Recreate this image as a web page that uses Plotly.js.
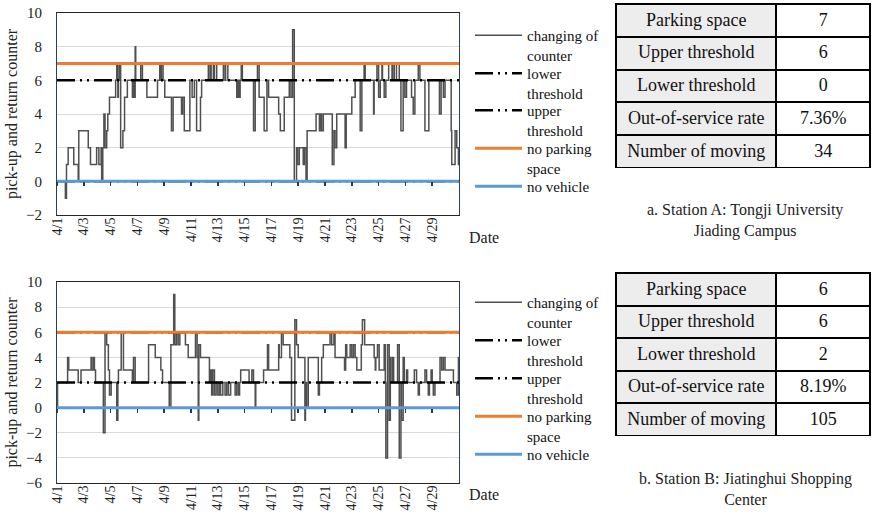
<!DOCTYPE html>
<html><head><meta charset="utf-8">
<script src="https://cdn.plot.ly/plotly-3.0.1.min.js"></script>
<style>html,body{margin:0;padding:0;background:#fff}#chart{width:873px;height:520px}</style>
</head><body><div id="chart"></div>
<script>
// ---- data (hour offsets from 4/1 00:00, value from that hour on) ----
const hoursA = [0,15,17,20,30,38,39,56,60,71,75,79,80,82,84,86,89,91,94,105,107,109,110,112,114,118,121,126,135,137,138,140,141,150,153,161,180,184,186,187,190,193,205,208,223,225,228,238,242,246,250,257,259,271,274,276,280,282,286,298,301,302,306,322,324,326,328,330,332,352,355,359,362,371,376,379,397,400,407,416,419,422,425,429,431,434,441,443,446,448,464,470,472,474,477,493,496,498,501,516,518,528,534,543,546,550,552,567,568,573,576,579,582,583,586,589,594,600,601,604,608,613,616,620,623,626,635,638,641,647,650,659,666,685,688,692,695,706,707,713,716,719,720];
const counterA = [0,-1,1,2,1,0,3,2,1,2,1,2,0,2,4,2,3,4,5,6,7,5,6,7,2,3,5,6,5,6,5,8,6,7,6,5,6,7,6,7,6,5,3,5,4,5,3,6,5,6,3,5,6,7,6,7,6,7,6,7,6,7,6,5,6,5,6,7,6,3,6,7,5,3,6,5,4,3,5,6,5,9,0,2,1,2,1,2,0,3,4,3,4,3,4,1,3,2,4,2,4,5,6,3,6,7,6,4,6,7,5,6,7,6,5,6,7,6,7,6,7,6,3,6,5,6,5,4,6,7,6,3,6,4,6,5,6,3,1,3,2,1,1];
const hoursB = [0,1,19,21,38,43,61,62,65,67,69,83,86,89,92,94,97,107,109,110,115,119,135,137,140,164,176,186,189,201,204,209,211,214,217,220,230,235,248,251,253,254,257,273,275,277,279,282,285,288,291,293,297,301,304,307,311,319,322,325,327,329,344,349,352,355,356,370,377,379,397,398,402,405,417,420,426,429,432,444,445,447,450,468,470,474,477,489,492,496,498,515,517,519,525,528,531,534,537,545,547,551,568,570,571,574,577,586,588,589,592,595,597,598,601,603,610,613,616,617,620,622,626,628,640,644,647,649,659,662,665,667,670,672,674,677,686,689,692,695,710,716,719,720];
const counterB = [0,2,4,3,2,3,4,3,4,3,2,-2,6,5,3,1,2,-1,2,3,6,3,2,4,2,5,4,3,2,0,5,9,5,6,5,6,5,4,6,4,-1,5,4,2,3,1,3,1,2,1,2,1,2,1,2,1,2,1,2,1,2,3,2,3,2,0,2,3,5,3,5,4,6,5,4,-1,7,5,4,-1,2,0,4,1,2,4,5,6,5,6,4,3,5,4,5,4,5,4,3,5,7,5,4,3,4,5,3,5,2,-4,5,-1,4,2,4,2,5,-4,2,-1,4,2,3,2,3,2,1,2,3,2,1,2,3,2,1,2,4,3,4,3,2,1,4,4];
const timeSpan = [0, 720];
const tickHours = [0,48,96,144,192,240,288,336,384,432,480,528,576,624,672];
const tickLabels = ['4/1','4/3','4/5','4/7','4/9','4/11','4/13','4/15','4/17','4/19','4/21','4/23','4/25','4/27','4/29'];
const parkingA = 7, upperA = 6, lowerA = 0;
const parkingB = 6, upperB = 6, lowerB = 2;
const noVehicle = 0;
const tableLabels = ['Parking space','Upper threshold','Lower threshold','Out-of-service rate','Number of moving'];
const tableA = ['7','6','0','7.36%','34'];
const tableB = ['6','6','2','8.19%','105'];
const captionA = 'a. Station A: Tongji University<br>Jiading Campus';
const captionB = 'b. Station B: Jiatinghui Shopping<br>Center';
const legendNames = ['changing of<br>counter','lower<br>threshold','upper<br>threshold','no parking<br>space','no vehicle'];
const yTitle = 'pick-up and return counter';
const rangeA = [-2, 10], rangeB = [-6, 10];

// ---- styling ----
const FONT = 'Liberation Serif';
const GRAY = '#505050', ORANGE = '#ed7d31', BLUE = '#5b9bd5';
const DASH = '18px,5px,2px,5px,2px,5px';
const W = 873, H = 520;
const xDom = [57/W, 459/W];
const yDomA = [1-215/H, 1-13/H];
const yDomB = [1-483/H, 1-282/H];
const zeroPos = (dom, r) => dom[0] + (0 - r[0]) / (r[1] - r[0]) * (dom[1] - dom[0]);
const legendTopsA = [19, 57, 94, 132, 170];
const legendTopsB = [286, 324, 362, 400, 438];

function lgId(i) { return i === 0 ? 'legend' : 'legend' + (i + 1); }

function stationTraces(hours, counter, lower, upper, parking, xa, ya, lg0) {
  const flat = v => [v, v];
  return [
    {x: hours, y: counter, type:'scatter', mode:'lines', line:{color:GRAY, width:1.5, shape:'hv'}, name:legendNames[0], xaxis:xa, yaxis:ya, legend:lgId(lg0)},
    {x: timeSpan, y: flat(lower), type:'scatter', mode:'lines', line:{color:'#000', width:2.5, dash:DASH}, name:legendNames[1], xaxis:xa, yaxis:ya, legend:lgId(lg0+1)},
    {x: timeSpan, y: flat(upper), type:'scatter', mode:'lines', line:{color:'#000', width:2.5, dash:DASH}, name:legendNames[2], xaxis:xa, yaxis:ya, legend:lgId(lg0+2)},
    {x: timeSpan, y: flat(parking), type:'scatter', mode:'lines', line:{color:ORANGE, width:3}, name:legendNames[3], xaxis:xa, yaxis:ya, legend:lgId(lg0+3)},
    {x: timeSpan, y: flat(noVehicle), type:'scatter', mode:'lines', line:{color:BLUE, width:3}, name:legendNames[4], xaxis:xa, yaxis:ya, legend:lgId(lg0+4)}
  ];
}

function table(vals, dom) {
  const h = (dom[1]-dom[0]) * H / 5;
  return {
    type:'table', domain:{x:[616/W, 871/W], y:dom}, columnwidth:[161, 94],
    header:{values:[tableLabels[0], vals[0]], height:h, align:'center',
      fill:{color:[['#ededed'],['#ffffff']]}, line:{color:'#000', width:2},
      font:{family:FONT, size:18, color:'#111'}},
    cells:{values:[tableLabels.slice(1), vals.slice(1)], height:h, align:'center',
      fill:{color:[tableLabels.slice(1).map(()=>'#ededed'), tableLabels.slice(1).map(()=>'#ffffff')]},
      line:{color:'#000', width:2}, font:{family:FONT, size:18, color:'#111'}}
  };
}

const data = [
  ...stationTraces(hoursA, counterA, lowerA, upperA, parkingA, 'x', 'y', 0),
  ...stationTraces(hoursB, counterB, lowerB, upperB, parkingB, 'x2', 'y2', 5),
  {x:[], y:[], type:'scatter', mode:'lines', xaxis:'x3', yaxis:'y', showlegend:false, hoverinfo:'skip'},
  {x:[], y:[], type:'scatter', mode:'lines', xaxis:'x4', yaxis:'y2', showlegend:false, hoverinfo:'skip'},
  table(tableA, [1-168/H, 1-4/H]),
  table(tableB, [1-436/H, 1-273/H])
];

const xBase = {
  domain:xDom, range:timeSpan, tickmode:'array', tickvals:tickHours, ticktext:tickLabels,
  tickangle:-90, tickfont:{family:FONT, size:14, color:'#222'}, ticks:'', ticklabelstandoff:-4,
  showgrid:false, zeroline:false, showline:true, mirror:true, linecolor:'#262626', linewidth:1,
  automargin:false, fixedrange:true
};
const yBase = {
  domain:yDomA, dtick:2, tick0:0, tickfont:{family:FONT, size:15, color:'#222'}, ticks:'',
  ticklabelstandoff:11, showgrid:true, gridcolor:'#d9d9d9', gridwidth:1, zeroline:false,
  showline:true, mirror:true, linecolor:'#2a3f5a', linewidth:1, automargin:false, fixedrange:true,
  title:{text:yTitle, font:{family:FONT, size:16, color:'#222'}, standoff:4}
};
const markAxis = (ov, pos) => ({
  overlaying:ov, anchor:'free', position:pos, range:timeSpan, tickmode:'array', tickvals:tickHours,
  showticklabels:false, ticks:'outside', ticklen:4, tickwidth:1.5, tickcolor:'#1f3a5f',
  showline:false, showgrid:false, zeroline:false, fixedrange:true
});
const legendBox = top => ({
  x:470/W, y:1-top/H, xanchor:'left', yanchor:'top', bgcolor:'rgba(0,0,0,0)', valign:'top',
  itemwidth:47, font:{family:FONT, size:15, color:'#111'}
});

const layout = {
  width:W, height:H, autosize:false, margin:{l:0, r:0, t:0, b:0},
  paper_bgcolor:'#fff', plot_bgcolor:'#fff', font:{family:FONT, color:'#111'},
  xaxis:{...xBase, anchor:'y'},
  yaxis:{...yBase, domain:yDomA, range:rangeA, anchor:'x'},
  xaxis2:{...xBase, anchor:'y2'},
  yaxis2:{...yBase, domain:yDomB, range:rangeB, anchor:'x2'},
  xaxis3:markAxis('x', zeroPos(yDomA, rangeA)),
  xaxis4:markAxis('x2', zeroPos(yDomB, rangeB)),
  annotations:[
    {text:captionA, x:745/W, y:1-220/H, xref:'paper', yref:'paper', xanchor:'center', yanchor:'middle', showarrow:false, font:{family:FONT, size:16, color:'#222'}, align:'center'},
    {text:captionB, x:745/W, y:1-489/H, xref:'paper', yref:'paper', xanchor:'center', yanchor:'middle', showarrow:false, font:{family:FONT, size:16, color:'#222'}, align:'center'},
    {text:'Date', x:467/W, y:1-238/H, xref:'paper', yref:'paper', xanchor:'left', showarrow:false, font:{family:FONT, size:16, color:'#222'}},
    {text:'Date', x:467/W, y:1-505/H, xref:'paper', yref:'paper', xanchor:'left', showarrow:false, font:{family:FONT, size:16, color:'#222'}}
  ],
  showlegend:true
};
legendTopsA.concat(legendTopsB).forEach((t, i) => { layout[lgId(i)] = legendBox(t); });

Plotly.newPlot('chart', data, layout, {staticPlot:true, displayModeBar:false});
</script></body></html>
